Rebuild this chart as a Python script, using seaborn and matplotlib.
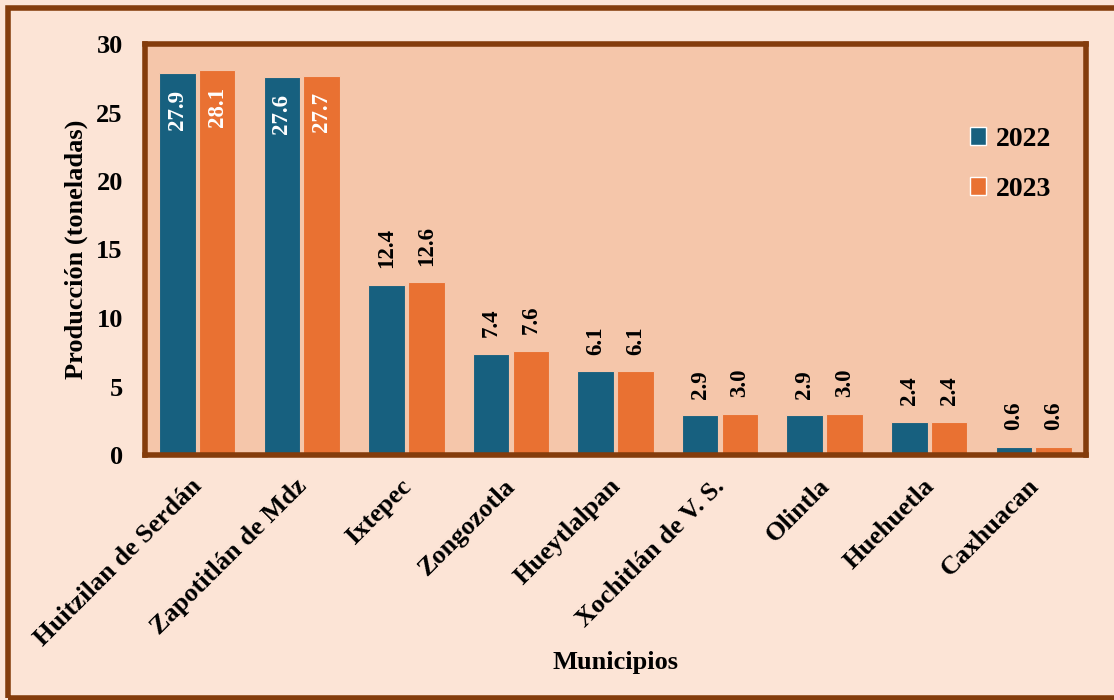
import matplotlib
matplotlib.use("Agg")
import matplotlib.pyplot as plt
import matplotlib.transforms as mtransforms
import seaborn as sns
import pandas as pd
from matplotlib.patches import Rectangle, Patch

municipios = ["Huitzilan de Serdán", "Zapotitlán de Mdz", "Ixtepec", "Zongozotla",
              "Hueytlalpan", "Xochitlán de V. S.", "Olintla", "Huehuetla", "Caxhuacan"]
prod_2022 = [27.9, 27.6, 12.4, 7.4, 6.1, 2.9, 2.9, 2.4, 0.6]
prod_2023 = [28.1, 27.7, 12.6, 7.6, 6.1, 3.0, 3.0, 2.4, 0.6]
years = ["2022", "2023"]
yticks = [0, 5, 10, 15, 20, 25, 30]

df = pd.DataFrame({
    "Municipio": municipios * 2,
    "Año": [years[0]] * len(municipios) + [years[1]] * len(municipios),
    "Producción": prod_2022 + prod_2023,
})

sns.set_theme(style="white")
plt.rcParams["font.family"] = ["Liberation Serif", "DejaVu Serif"]
plt.rcParams["font.weight"] = "bold"
plt.rcParams["text.color"] = "black"
plt.rcParams["axes.labelcolor"] = "black"
plt.rcParams["xtick.color"] = "black"
plt.rcParams["ytick.color"] = "black"

BLUE = "#17607F"
ORANGE = "#E97132"
AX_BG = "#F5C6AA"
FIG_BG = "#FCE4D6"
BROWN = "#843C0C"

fig = plt.figure(figsize=(11.14, 7.0), dpi=100, facecolor=FIG_BG)
ax = fig.add_axes([145 / 1114, 1 - 455 / 700, (1086 - 145) / 1114, (455 - 44) / 700])
ax.set_facecolor(AX_BG)

# outer frame
fig.patches.append(Rectangle((8 / 1114, 2 / 700), 1.2, 690 / 700, transform=fig.transFigure,
                             fill=False, edgecolor=BROWN, linewidth=4, zorder=0))

sns.barplot(data=df, x="Municipio", y="Producción", hue="Año", order=municipios,
            hue_order=years, palette=[BLUE, ORANGE], width=0.76, gap=0.08,
            saturation=1, ax=ax, legend=False, edgecolor=AX_BG, linewidth=0.8)

for i, cont in enumerate(ax.containers):
    for bar in cont:
        h = bar.get_height()
        xc = bar.get_x() + bar.get_width() / 2
        if h > 20:
            ax.annotate(f"{h:.1f}", (xc, h), xytext=(0, -12), textcoords="offset points",
                        rotation=90, ha="center", va="top", color="white",
                        fontsize=16.5, fontweight="bold")
        else:
            ax.annotate(f"{h:.1f}", (xc, h), xytext=(0, 12), textcoords="offset points",
                        rotation=90, ha="center", va="bottom", color="black",
                        fontsize=16.5, fontweight="bold")

ax.set_xlim(-0.5, len(municipios) - 0.5)
ax.set_ylim(0, 30)
ax.set_yticks(yticks)
ax.set_yticklabels([str(t) for t in yticks], fontsize=19, fontweight="bold")
ax.tick_params(axis="y", length=0, pad=16)
ax.tick_params(axis="x", length=0, pad=14)
ax.set_xticks(range(len(municipios)))
ax.set_xticklabels(municipios, rotation=45, ha="right", rotation_mode="anchor",
                   fontsize=19, fontweight="bold")
shift = mtransforms.ScaledTranslation(-7 / 100, 0, fig.dpi_scale_trans)
for lab in ax.get_xticklabels():
    lab.set_transform(lab.get_transform() + shift)
ax.set_xlabel("Municipios", fontsize=19, fontweight="bold", labelpad=0)
ax.set_ylabel("Producción (toneladas)", fontsize=19, fontweight="bold", labelpad=6)

for s in ax.spines.values():
    s.set_visible(True)
    s.set_color(BROWN)
    s.set_linewidth(4)

handles = [Patch(facecolor=BLUE, label="2022"), Patch(facecolor=ORANGE, label="2023")]
leg = ax.legend(handles=handles, loc="upper right", bbox_to_anchor=(0.99, 0.86),
                frameon=False, handlelength=0.6, handleheight=0.6,
                handletextpad=0.35, labelspacing=0.9,
                prop={"family": "Liberation Serif", "weight": "bold", "size": 20})

fig.savefig("out.png", dpi=100, facecolor=FIG_BG)
